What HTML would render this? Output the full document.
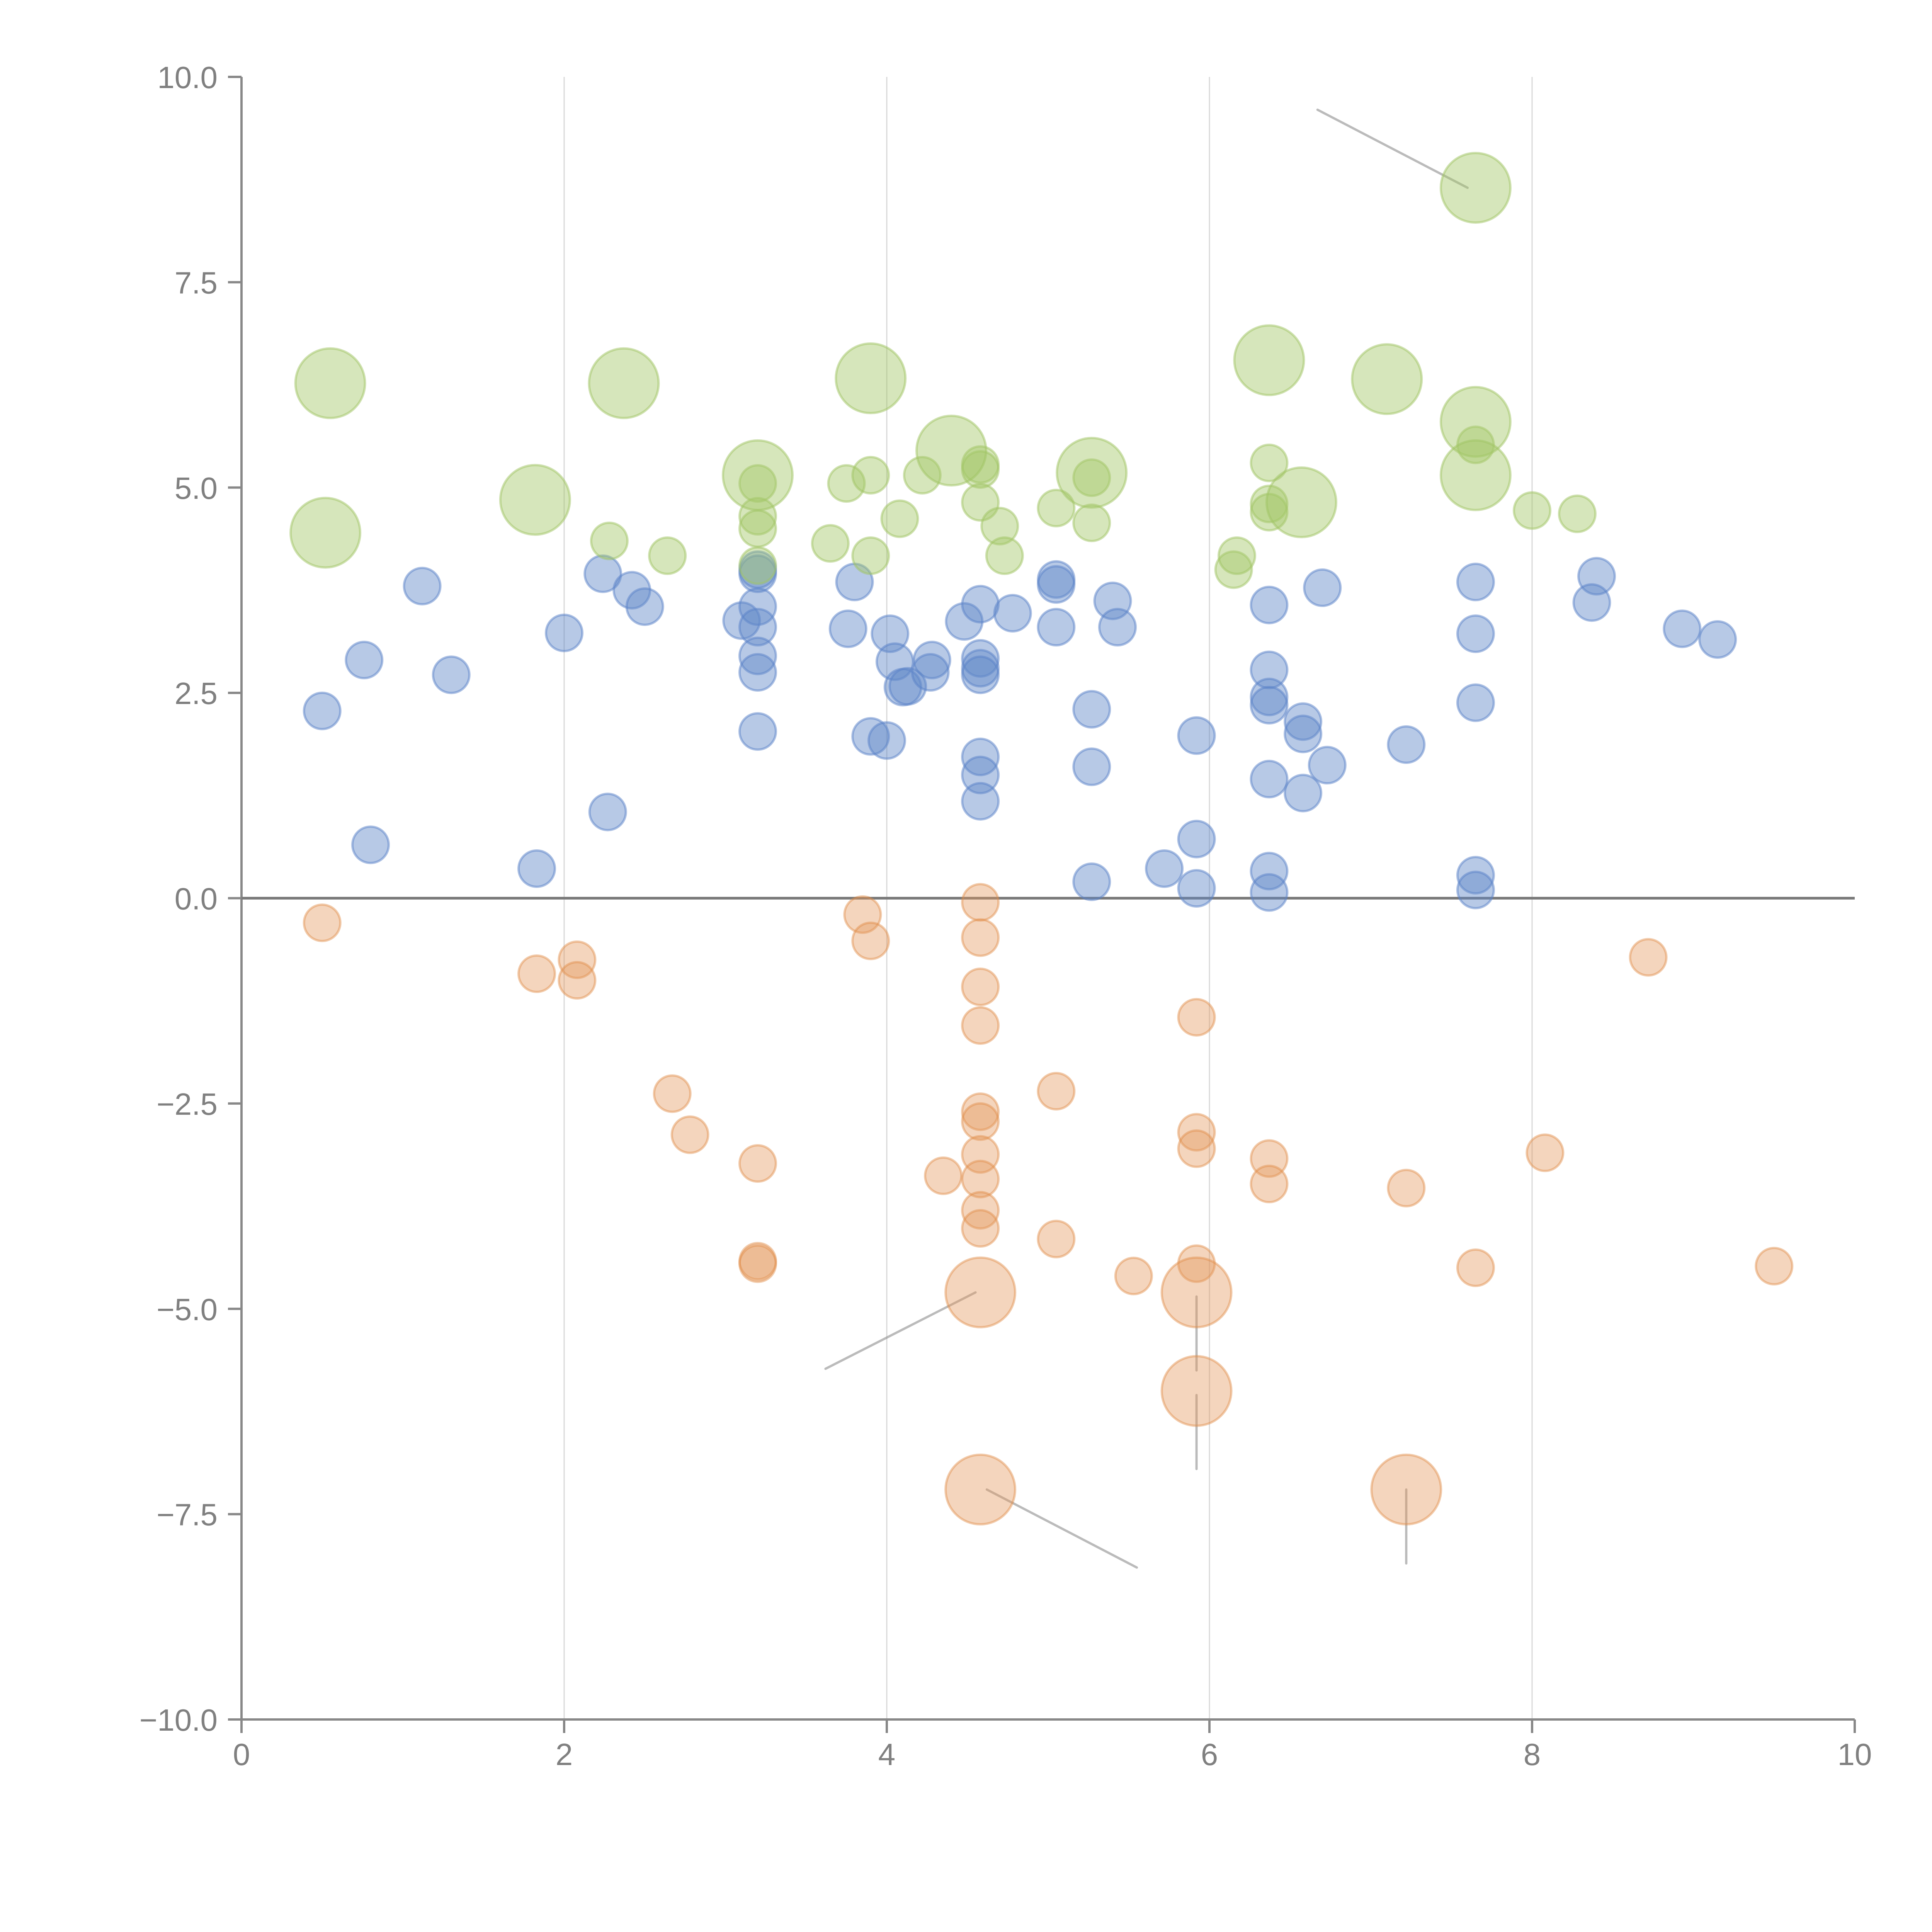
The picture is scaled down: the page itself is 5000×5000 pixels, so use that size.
<!DOCTYPE html>
<html><head><meta charset="utf-8"><style>
html,body{margin:0;padding:0;background:#fff;}
svg{display:block;}
text{font-family:"Liberation Sans",sans-serif;fill:#808080;font-size:80px;}
</style></head><body>
<svg id="chart" width="5000" height="5000" viewBox="0 0 5000 5000" xmlns="http://www.w3.org/2000/svg">
<g id="grid"></g>
<g id="axes"></g>
<g id="lines"></g>
<g id="marks"></g>
</svg>
<script>
const xTicks=[0,2,4,6,8,10];
const xTickLabels=["0","2","4","6","8","10"];
const yTicks=[10,7.5,5,2.5,0,-2.5,-5,-7.5,-10];
const yTickLabels=["10.0","7.5","5.0","2.5","0.0","\u22122.5","\u22125.0","\u22127.5","\u221210.0"];
const greenLargeX=[0.55,0.52,1.82,2.37,3.9,3.2,4.4,5.27,6.37,6.57,7.1,7.65,7.65,7.65];
const greenLargeY=[6.27,4.45,4.85,6.27,6.33,5.15,5.45,5.18,6.55,4.82,6.32,8.65,5.8,5.15];
const greenSmallX=[2.28,2.64,3.2,3.2,3.2,3.2,3.65,3.75,3.9,3.9,4.08,4.22,4.58,4.58,4.58,4.7,4.73,5.05,5.27,5.27,6.15,6.17,6.37,6.37,6.37,7.65,8.0,8.28];
const greenSmallY=[4.35,4.17,5.05,4.65,4.5,4.05,4.32,5.05,5.15,4.17,4.62,5.15,5.28,5.22,4.82,4.53,4.17,4.75,5.12,4.57,4.0,4.17,5.3,4.8,4.7,5.52,4.72,4.68];
const blueX=[0.5,0.76,0.8,1.12,1.3,1.83,2.0,2.24,2.27,2.42,2.5,3.1,3.2,3.2,3.2,3.2,3.2,3.2,3.2,3.76,3.8,3.9,4.0,4.02,4.05,4.1,4.13,4.28,4.27,4.48,4.58,4.58,4.58,4.58,4.58,4.58,4.58,4.78,5.05,5.05,5.05,5.27,5.27,5.27,5.4,5.43,5.72,5.92,5.92,5.92,6.37,6.37,6.37,6.37,6.37,6.37,6.37,6.58,6.58,6.58,6.7,6.73,7.22,7.65,7.65,7.65,7.65,7.65,8.4,8.37,8.93,9.15];
const blueY=[2.28,2.9,0.65,3.8,2.72,0.36,3.23,3.95,1.05,3.75,3.55,3.38,4.0,3.95,3.55,3.3,2.95,2.75,2.03,3.28,3.85,1.97,1.92,3.22,2.88,2.57,2.58,2.9,2.75,3.37,3.58,2.92,2.8,2.72,1.72,1.5,1.18,3.47,3.88,3.82,3.3,2.3,1.6,0.2,3.62,3.3,0.36,1.98,0.72,0.12,3.57,2.78,2.45,2.35,1.45,0.33,0.07,2.15,2.0,1.28,3.78,1.62,1.87,3.85,3.22,2.38,0.28,0.1,3.92,3.6,3.28,3.15];
const orangeLargeX=[4.58,5.92,5.92,4.58,7.22];
const orangeLargeY=[-4.8,-4.8,-6.0,-7.2,-7.2];
const orangeSmallX=[0.5,1.83,2.08,2.08,2.67,2.78,3.2,3.2,3.2,3.85,3.9,4.35,4.58,4.58,4.58,4.58,4.58,4.58,4.58,4.58,4.58,4.58,5.05,5.05,5.53,5.92,5.92,5.92,5.92,6.37,6.37,7.22,7.65,8.08,8.72,9.5];
const orangeSmallY=[-0.3,-0.92,-0.75,-1.0,-2.38,-2.88,-3.23,-4.42,-4.45,-0.2,-0.52,-3.38,-0.05,-0.48,-1.08,-1.55,-2.6,-2.72,-3.12,-3.42,-3.8,-4.02,-2.35,-4.15,-4.6,-1.45,-2.85,-3.05,-4.45,-3.17,-3.48,-3.53,-4.5,-3.1,-0.72,-4.48];
const connX1=[6.67,3.62,5.92,5.92,4.62,7.22];
const connY1=[9.6,-5.73,-4.85,-6.05,-7.2,-7.2];
const connX2=[7.6,4.55,5.92,5.92,5.55,7.22];
const connY2=[8.65,-4.8,-5.75,-6.95,-8.15,-8.1];

const X0=625,X1=4800,Y0=199,Y1=4450;
const sx=v=>X0+(v-0)/(10-0)*(X1-X0);
const sy=v=>Y0+(10-v)/(20)*(Y1-Y0);
const NS="http://www.w3.org/2000/svg";
function mk(tag,parent,attrs){const e=document.createElementNS(NS,tag);for(const k in attrs)e.setAttribute(k,attrs[k]);parent.appendChild(e);return e;}
const grid=document.getElementById('grid'),axes=document.getElementById('axes'),lines=document.getElementById('lines'),marks=document.getElementById('marks');

xTicks.forEach((t,i)=>{
  if(t>0&&t<10){const g=mk('line',grid,{x1:sx(t),x2:sx(t),y1:Y0,y2:Y1,stroke:'#d8d8d8','stroke-width':3});
  
  }
  const tk=mk('line',axes,{x1:sx(t),x2:sx(t),y1:Y1,y2:Y1+35,stroke:'#888','stroke-width':6});
  
  
  const tx=mk('text',axes,{x:sx(t),y:Y1+118,'text-anchor':'middle'});tx.textContent=xTickLabels[i];
  
  
});
yTicks.forEach((t,i)=>{
  const tk=mk('line',axes,{x1:X0-35,x2:X0,y1:sy(t),y2:sy(t),stroke:'#888','stroke-width':6});
  
  
  const tx=mk('text',axes,{x:X0-62,y:sy(t)+29,'text-anchor':'end'});tx.textContent=yTickLabels[i];
  
  
});
const ya=mk('line',axes,{x1:X0,x2:X0,y1:Y0,y2:Y1,stroke:'#888','stroke-width':6});


const xa=mk('line',axes,{x1:X0,x2:X1,y1:Y1,y2:Y1,stroke:'#888','stroke-width':6});


const zl=mk('line',axes,{x1:X0,x2:X1,y1:sy(0),y2:sy(0),stroke:'#7a7a7a','stroke-width':7});



function series(xs,ys,r,fill,stroke,name){
  xs.forEach((x,i)=>{
    const c=mk('circle',marks,{cx:sx(x),cy:sy(ys[i]),r:r,fill:fill,stroke:stroke,'stroke-width':6});
    
    
  });
}
series(blueX,blueY,47,'rgba(95,135,200,0.45)','rgba(90,130,200,0.5)','blue-bubble');
series(orangeSmallX,orangeSmallY,47,'rgba(228,150,90,0.4)','rgba(225,140,70,0.45)','orange-bubble');
series(orangeLargeX,orangeLargeY,90,'rgba(228,150,90,0.4)','rgba(225,140,70,0.45)','orange-large-bubble');
series(greenSmallX,greenSmallY,47,'rgba(165,200,105,0.45)','rgba(160,195,100,0.5)','green-bubble');
series(greenLargeX,greenLargeY,90,'rgba(165,200,105,0.45)','rgba(160,195,100,0.5)','green-large-bubble');
connX1.forEach((x,i)=>{
  const l=mk('line',lines,{x1:sx(x),y1:sy(connY1[i]),x2:sx(connX2[i]),y2:sy(connY2[i]),stroke:'rgba(150,150,150,0.65)','stroke-width':6,'stroke-linecap':'round'});
  
  
});
</script>
</body></html>
